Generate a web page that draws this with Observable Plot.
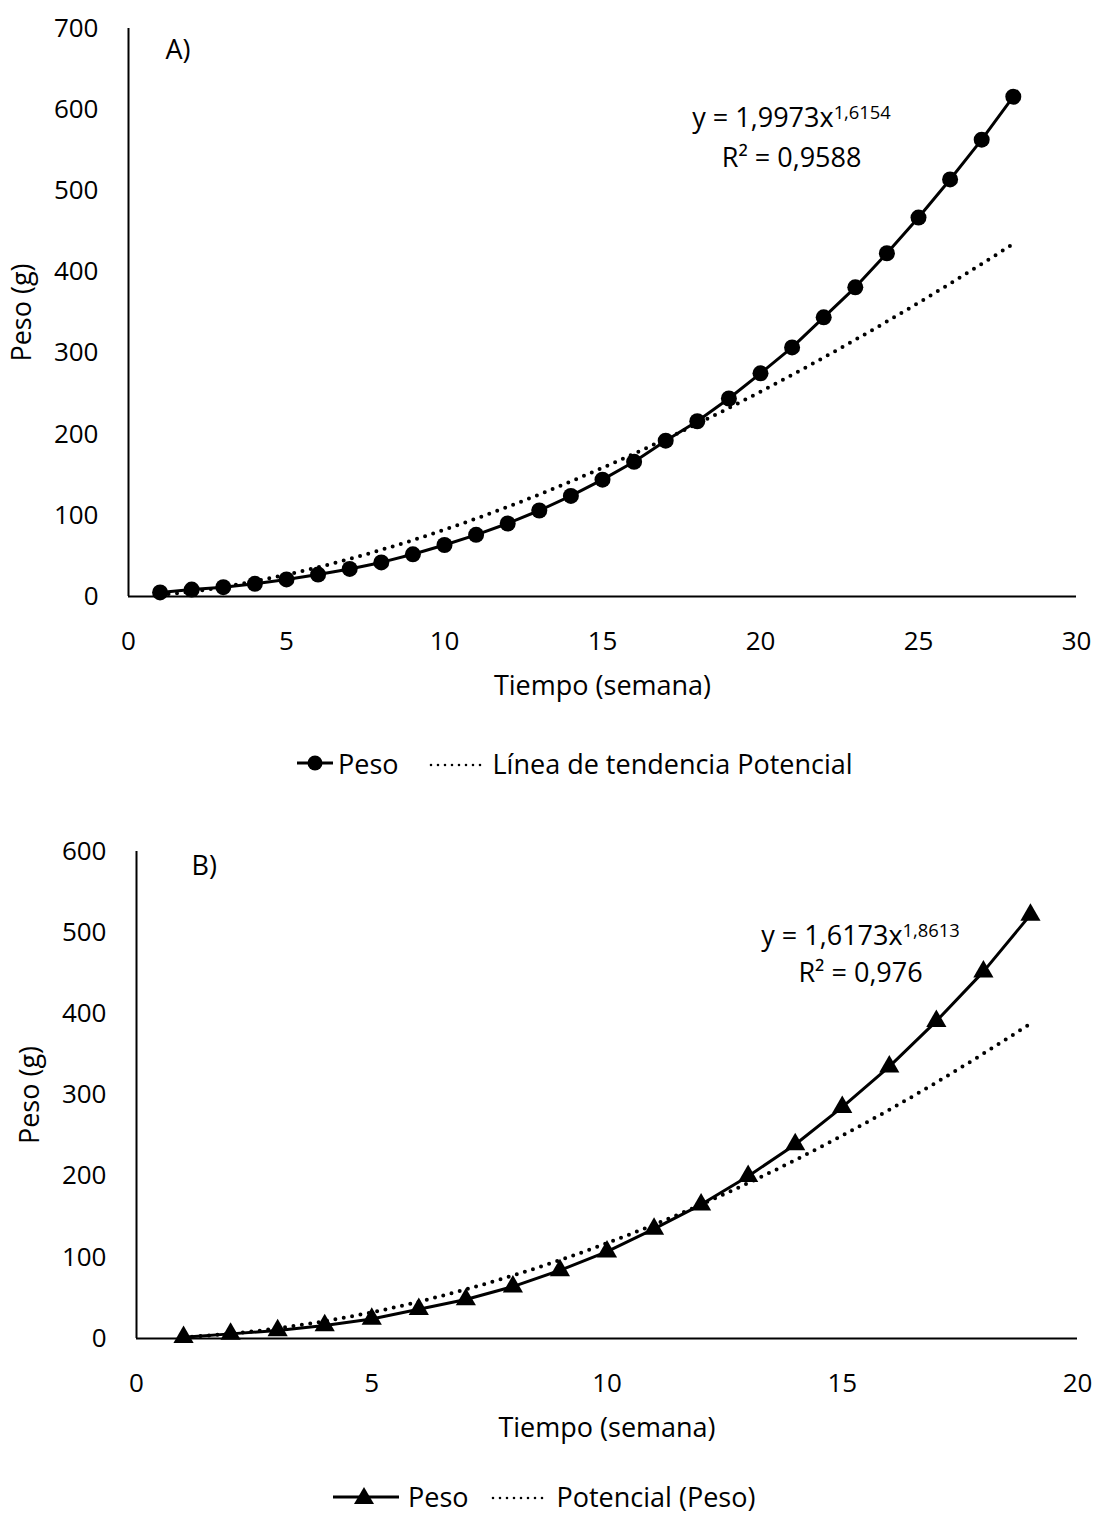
<!DOCTYPE html>
<html>
<head>
<meta charset="utf-8">
<script src="https://cdn.jsdelivr.net/npm/d3@7"></script>
<script src="https://cdn.jsdelivr.net/npm/@observablehq/plot@0.6"></script>
<style>
  html, body { margin: 0; padding: 0; background: #fff; overflow: hidden; }
  #root { position: relative; width: 1096px; height: 1521px; overflow: hidden; font-family: "Open Sans", sans-serif; color: #000; }
  .chart { position: absolute; left: 0; }
  .legend { position: absolute; display: flex; align-items: center; height: 40px; font-size: 27px; white-space: nowrap; }
  .legend svg { display: block; overflow: visible; flex: none; }
</style>
</head>
<body>
<div id="root"></div>
<script>
// ---------- Data: panel A ----------
const weeksA = [1,2,3,4,5,6,7,8,9,10,11,12,13,14,15,16,17,18,19,20,21,22,23,24,25,26,27,28];
const pesoA  = [5,8.5,11.5,15.6,21,27,34,42,52,63.5,76,90,106,124,144,166,192,216,244,275,307,344,381,423,467,514,563,616];
const trendA = [2.0,6.1,11.8,18.8,26.9,36.1,46.3,57.5,69.5,82.4,96.1,110.6,125.8,141.9,158.6,176.0,194.2,212.9,232.3,252.4,273.2,294.5,316.4,338.9,361.9,385.7,409.9,434.6];
const xTicksA = [0,5,10,15,20,25,30];
const yTicksA = [0,100,200,300,400,500,600,700];

// ---------- Data: panel B ----------
const weeksB = [1,2,3,4,5,6,7,8,9,10,11,12,13,14,15,16,17,18,19];
const pesoB  = [1.6,5.7,9.9,16,24,36,48,64,84,107,135,165,200,239,285,335,391,452,522];
const trendB = [1.6,5.9,12.5,21.4,32.3,45.4,60.5,77.6,96.6,117.5,140.3,165.0,191.5,219.8,250.0,281.8,315.5,351.0,388.0];
const xTicksB = [0,5,10,15,20];
const yTicksB = [0,100,200,300,400,500,600];

// ---------- Texts ----------
const xLabel = "Tiempo (semana)";
const yLabel = "Peso (g)";
const eqA = {main: "y = 1,9973x", exp: "1,6154", r2: "R² = 0,9588"};
const eqB = {main: "y = 1,6173x", exp: "1,8613", r2: "R² = 0,976"};
const legendA = ["Peso", "Línea de tendencia Potencial"];
const legendB = ["Peso", "Potencial (Peso)"];

const FONT = "'Open Sans', sans-serif";
const FS = 27;      // labels, legend, equations
const FS_TICK = 26; // tick labels

function equationMark(eq, xv, y1, y2) {
  return (index, scales) => {
    const g = d3.create("svg:g")
      .attr("font-size", FS)
      .attr("font-family", FONT)
      .attr("text-anchor", "middle")
      .attr("fill", "black");
    const t = g.append("text").attr("x", scales.x(xv)).attr("y", scales.y(y1));
    t.append("tspan").text(eq.main);
    t.append("tspan").attr("dy", "-0.42em").attr("font-size", FS * 0.68).text(eq.exp);
    g.append("text").attr("x", scales.x(xv)).attr("y", scales.y(y2)).text(eq.r2);
    return g.node();
  };
}

function makeChart(o) {
  const rows = o.weeks.map((w, i) => ({w, peso: o.peso[i], trend: o.trend[i]}));
  return Plot.plot({
    width: 1096,
    height: o.height,
    marginLeft: o.marginLeft,
    marginRight: o.marginRight,
    marginTop: o.marginTop,
    marginBottom: o.marginBottom,
    style: {fontFamily: FONT, fontSize: FS_TICK + "px", color: "black", background: "white"},
    x: {domain: [0, o.xMax], ticks: o.xTicks, tickSize: 0, tickPadding: 35, label: null, tickFormat: d => String(d)},
    y: {domain: [0, o.yMax], ticks: o.yTicks, tickSize: 0, tickPadding: 30, label: null, tickFormat: d => String(d)},
    marks: [
      Plot.ruleX([0], {stroke: "black", strokeWidth: 2}),
      Plot.ruleY([0], {stroke: "black", strokeWidth: 2}),
      Plot.line(rows, {x: "w", y: "trend", curve: "natural", stroke: "black", strokeWidth: 4,
        strokeDasharray: "0 8.5", strokeLinecap: "round"}),
      Plot.line(rows, {x: "w", y: "peso", stroke: "black", strokeWidth: 3}),
      Plot.dot(rows, {x: "w", y: "peso", r: o.r, fill: "black", stroke: "none", symbol: o.symbol}),
      Plot.text([o.panel], {frameAnchor: "top-left", dx: o.panelDx, dy: o.panelDy, textAnchor: "start", lineAnchor: "middle", fontSize: FS}),
      Plot.text([yLabel], {frameAnchor: "left", rotate: -90, dx: -106, textAnchor: "middle", lineAnchor: "middle", fontSize: FS}),
      Plot.text([xLabel], {frameAnchor: "bottom", dy: 90, textAnchor: "middle", lineAnchor: "middle", fontSize: FS}),
      equationMark(o.eq, o.eqX, o.eqY1, o.eqY2)
    ]
  });
}

const root = document.getElementById("root");

const chartA = makeChart({
  weeks: weeksA, peso: pesoA, trend: trendA, xMax: 30, yMax: 700, xTicks: xTicksA, yTicks: yTicksA,
  height: 720, marginLeft: 128, marginRight: 20, marginTop: 28, marginBottom: 124,
  symbol: "circle", r: 8, panel: "A)", panelDx: 37, panelDy: 22,
  eq: eqA, eqX: 21.0, eqY1: 578, eqY2: 529
});
chartA.classList.add("chart");
chartA.style.top = "0px";
root.appendChild(chartA);

const chartB = makeChart({
  weeks: weeksB, peso: pesoB, trend: trendB, xMax: 20, yMax: 600, xTicks: xTicksB, yTicks: yTicksB,
  height: 660, marginLeft: 136, marginRight: 19, marginTop: 51, marginBottom: 122,
  symbol: "triangle", r: 7.5, panel: "B)", panelDx: 55, panelDy: 15,
  eq: eqB, eqX: 15.4, eqY1: 484, eqY2: 438
});
chartB.classList.add("chart");
chartB.style.top = "800px";
root.appendChild(chartB);

// ---------- Legends ----------
function legend(top, left, labels, kind) {
  const div = d3.select(root).append("div").attr("class", "legend")
    .style("top", top + "px").style("left", left + "px");
  if (kind === "circle") {
    const s = div.append("svg").attr("width", 36).attr("height", 20);
    s.append("line").attr("x1", 0).attr("x2", 36).attr("y1", 10).attr("y2", 10).attr("stroke", "black").attr("stroke-width", 3);
    s.append("circle").attr("cx", 18).attr("cy", 10).attr("r", 7.5).attr("fill", "black");
    div.append("span").style("margin-left", "5px").text(labels[0]);
  } else {
    const s = div.append("svg").attr("width", 66).attr("height", 20);
    s.append("line").attr("x1", 0).attr("x2", 66).attr("y1", 11).attr("y2", 11).attr("stroke", "black").attr("stroke-width", 3);
    s.append("path").attr("d", "M21,18L41,18L31,1Z").attr("fill", "black");
    div.append("span").style("margin-left", "9px").text(labels[0]);
  }
  const d = div.append("svg").attr("width", 56).attr("height", 20).style("margin-left", kind === "circle" ? "30px" : "22px");
  d.append("line").attr("x1", 2).attr("x2", 55).attr("y1", 12).attr("y2", 12)
    .attr("stroke", "black").attr("stroke-width", 2.6).attr("stroke-dasharray", "0 7").attr("stroke-linecap", "round");
  div.append("span").style("margin-left", kind === "circle" ? "8px" : "10px").text(labels[1]);
}
legend(743, 297, legendA, "circle");
legend(1476, 333, legendB, "triangle");
</script>
</body>
</html>
